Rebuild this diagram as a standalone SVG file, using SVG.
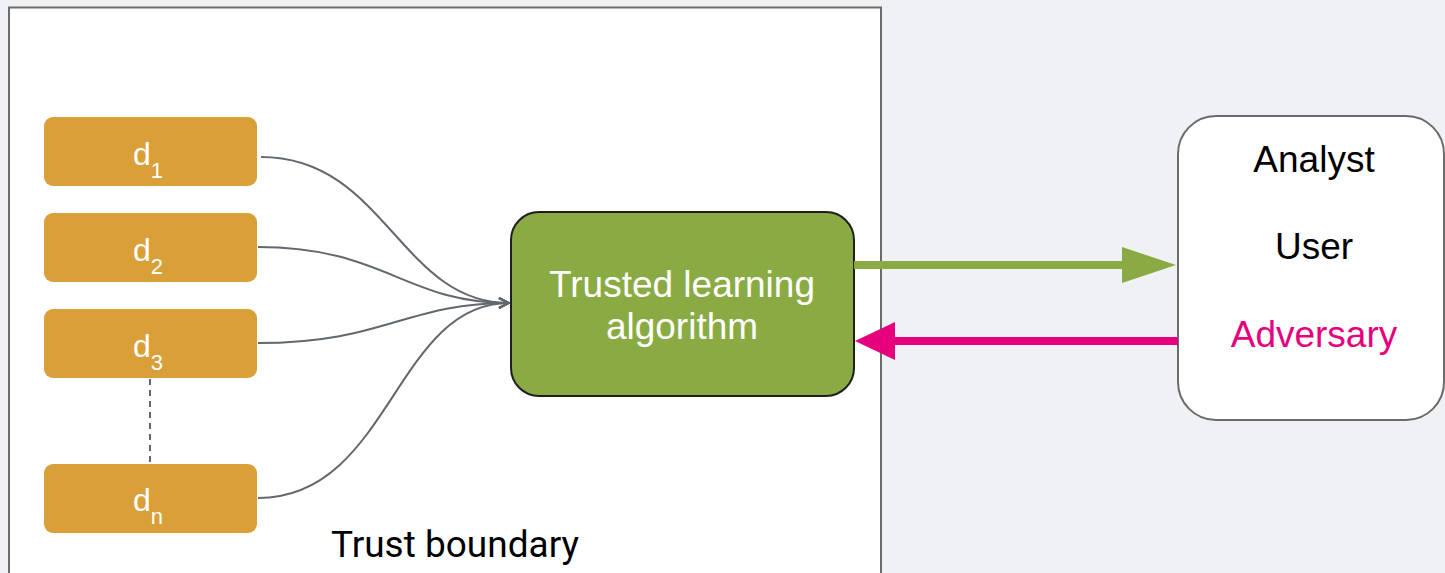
<svg xmlns="http://www.w3.org/2000/svg" width="1445" height="573" viewBox="0 0 1445 573">
  <style>
    .data rect { fill: #d9a03a; }
    .data text { fill: #ffffff; font-family: "Liberation Sans", Arial, sans-serif; font-size: 32px; text-anchor: middle; }
    .sub { font-size: 22px; }
    .flow { fill: none; stroke: #63676e; stroke-width: 2; marker-end: url(#open); }
    .label { font-family: "Liberation Sans", Arial, sans-serif; font-size: 37px; text-anchor: middle; }
  </style>
  <defs>
    <marker id="open" viewBox="0 0 12 12" refX="11" refY="6" markerWidth="12" markerHeight="12" markerUnits="userSpaceOnUse" orient="auto">
      <path d="M1,1 L11,6 L1,11" fill="none" stroke="#63676e" stroke-width="2"/>
    </marker>
  </defs>

  <!-- backdrop -->
  <rect x="0" y="0" width="1445" height="573" fill="#f0f1f4"/>

  <!-- trust boundary -->
  <g id="trust-boundary">
    <rect x="9" y="7.5" width="872" height="580" fill="#ffffff" stroke="#6b6b6b" stroke-width="2"/>
    <text x="455" y="557" font-family="Roboto, sans-serif" font-size="37" text-anchor="middle" fill="#000000">Trust boundary</text>
  </g>

  <!-- data sources -->
  <g id="d1" class="data">
    <rect x="44" y="117" width="213" height="69" rx="9"/>
    <text x="148" y="165">d<tspan class="sub" dy="13">1</tspan></text>
  </g>
  <g id="d2" class="data">
    <rect x="44" y="213" width="213" height="69" rx="9"/>
    <text x="148" y="261">d<tspan class="sub" dy="13">2</tspan></text>
  </g>
  <g id="d3" class="data">
    <rect x="44" y="309" width="213" height="69" rx="9"/>
    <text x="148" y="357">d<tspan class="sub" dy="13">3</tspan></text>
  </g>
  <g id="dn" class="data">
    <rect x="44" y="464" width="213" height="69" rx="9"/>
    <text x="148" y="511">d<tspan class="sub" dy="13">n</tspan></text>
  </g>

  <!-- learning algorithm -->
  <g id="algorithm">
    <rect x="511" y="212" width="343" height="184" rx="28" fill="#8aab43" stroke="#1f1f1f" stroke-width="2"/>
    <text class="label" x="682" y="297" fill="#ffffff">Trusted learning</text>
    <text class="label" x="682" y="339" fill="#ffffff">algorithm</text>
  </g>

  <!-- outside parties -->
  <g id="parties">
    <rect x="1178" y="116" width="266" height="304" rx="38" fill="#ffffff" stroke="#6b6b6b" stroke-width="2"/>
    <text class="label" x="1314" y="172" fill="#000000">Analyst</text>
    <text class="label" x="1314" y="259" fill="#000000">User</text>
    <text class="label" x="1314" y="347" fill="#e6007e">Adversary</text>
  </g>

  <!-- connectors -->
  <g id="connectors">
    <line x1="150" y1="379" x2="150" y2="463" stroke="#666666" stroke-width="2" stroke-dasharray="6 5"/>
    <path class="flow" d="M261,157 C385,157 400,303 509,303"/>
    <path class="flow" d="M258,247 C385,247 405,303 509,303"/>
    <path class="flow" d="M258,343 C385,343 405,303 509,303"/>
    <path class="flow" d="M258,498 C390,498 395,303 509,303"/>
    <line x1="854" y1="265" x2="1126" y2="265" stroke="#8aab43" stroke-width="8"/>
    <polygon points="1122,247 1176,265 1122,283" fill="#8aab43"/>
    <line x1="1178" y1="341" x2="890" y2="341" stroke="#e6007e" stroke-width="8"/>
    <polygon points="895,322 855,341 895,360" fill="#e6007e"/>
  </g>
</svg>
